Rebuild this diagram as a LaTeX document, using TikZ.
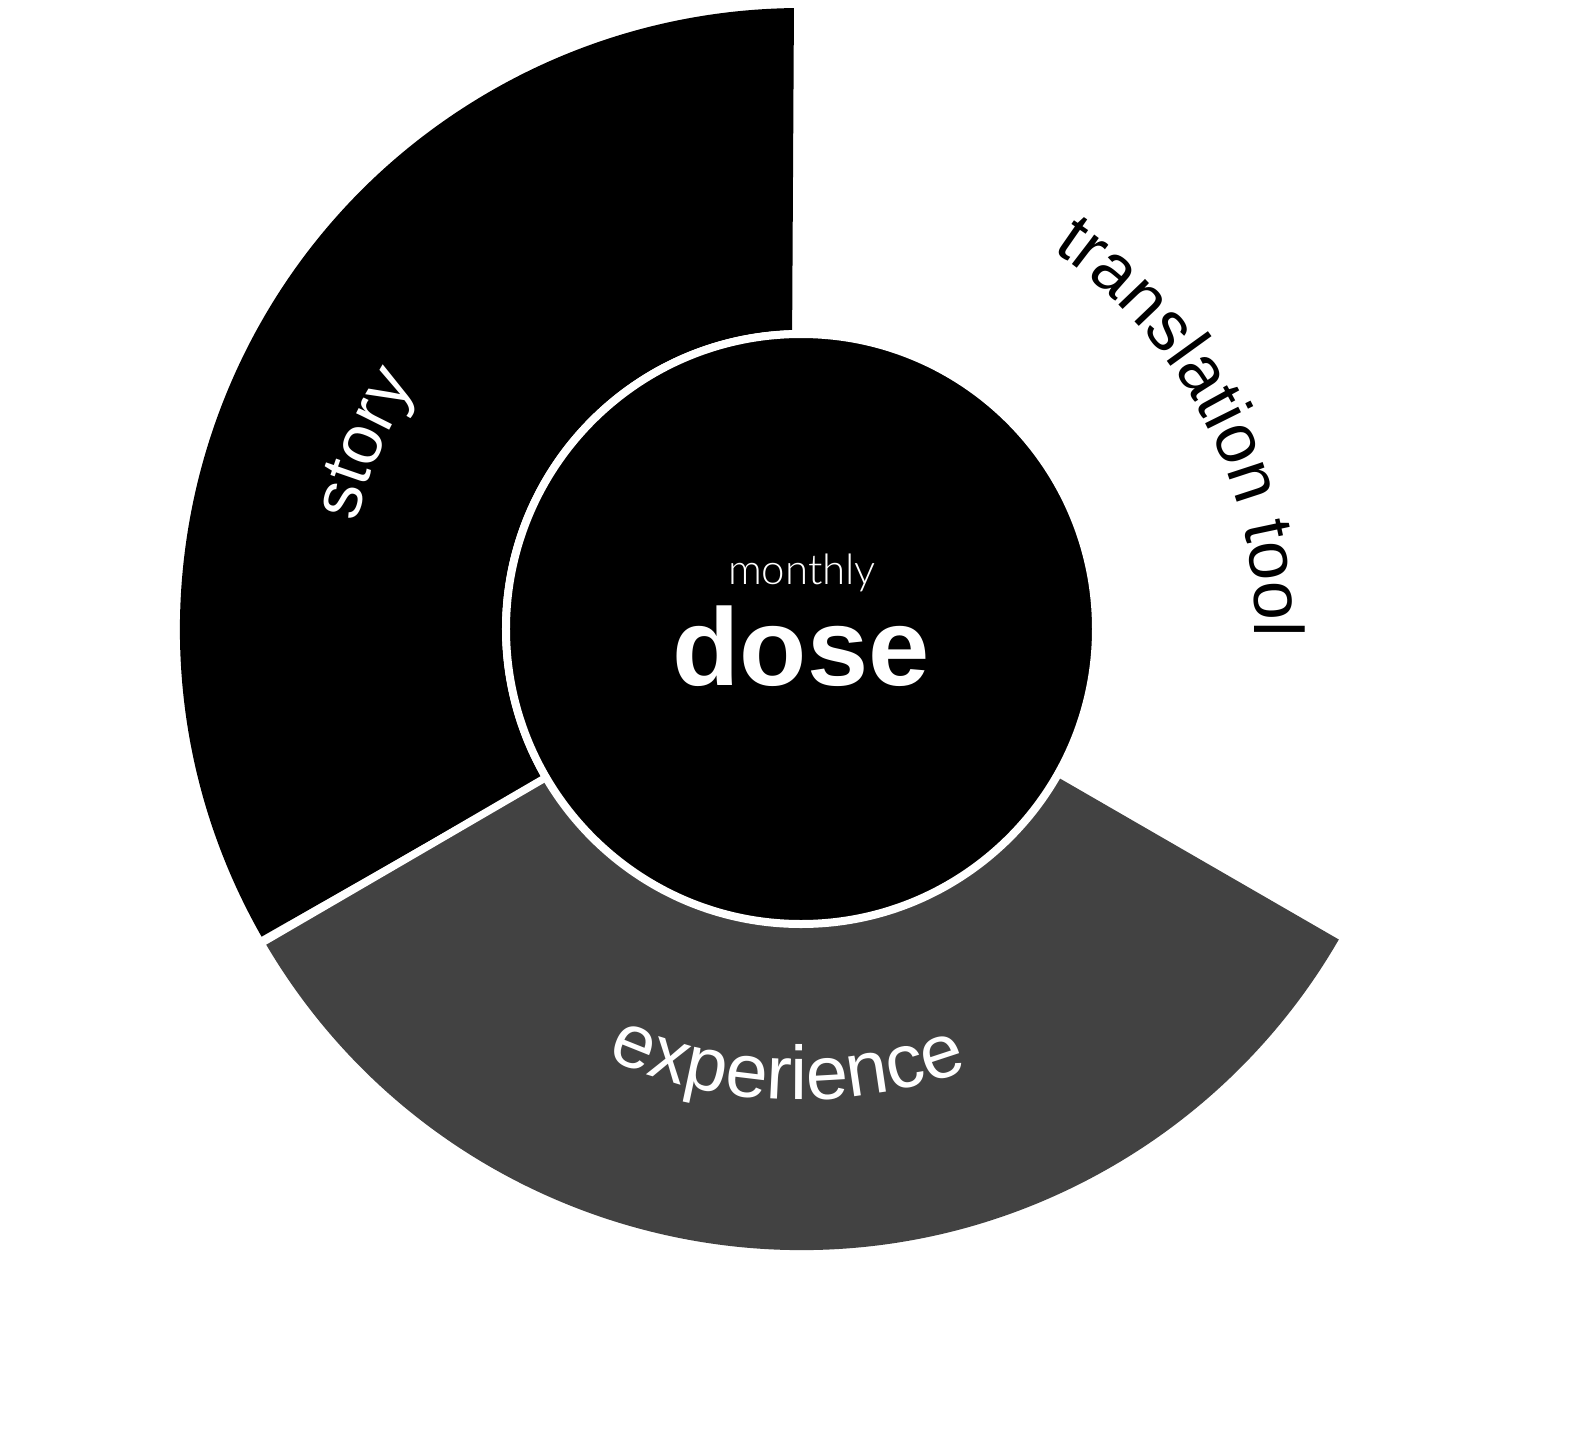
\documentclass[tikz,border=0pt]{standalone}
\usepackage{fontspec}
\setmainfont{Liberation Sans}
\usetikzlibrary{decorations.text}
\IfFontExistsTF{Lato Light}{\newfontfamily\lightfont{Lato Light}}{\newfontfamily\lightfont{Liberation Sans}}
\definecolor{expgray}{HTML}{424242}
\begin{document}
\begin{tikzpicture}[x=1pt,y=1pt,
  arclabel/.style={decorate, decoration={text along path, text align=center, text color=#1}},
  sector/.style={fill=#1, draw=none},
  centertext/.style={anchor=base, text=white, inner sep=0pt}
]
\useasboundingbox (-801,-812) rectangle (786,629);
\fill[white] (-801,-812) rectangle (786,629);
% story sector
\fill[sector=black] (209.7:299pt) -- (209.7:621pt) arc[start angle=209.7, end angle=90.65, radius=621pt]
  -- (91.7:299pt) arc[start angle=91.7, end angle=209.7, radius=299pt] -- cycle;
% experience sector
\fill[sector=expgray] (210:290pt) -- (210:621pt) arc[start angle=210, end angle=330, radius=621pt]
  -- (330:290pt) arc[start angle=330, end angle=210, radius=290pt] -- cycle;
% separator
\draw[white, line width=7.5pt] (210.2:285pt) -- (210.2:640pt);
% core
\node[circle, fill=black, draw=white, line width=8pt, minimum size=590pt, inner sep=0pt] (core) at (0,0) {};
\node[centertext, font=\lightfont\fontsize{42}{42}\selectfont] (monthly) at (1,45) {monthly};
\node[centertext, font=\bfseries\fontsize{110}{110}\selectfont] (dose) at (0,-56) {dose};
% arc labels
\path[arclabel=white, decoration={text={|\fontsize{70}{70}\selectfont|story}}]
  (197:457pt) arc[start angle=197, end angle=117, radius=457pt];
\path[arclabel=black, decoration={text={|\fontsize{70}{70}\selectfont|translation tool}}]
  (77.7:454pt) arc[start angle=77.7, end angle=-22.3, radius=454pt];
\path[arclabel=white, decoration={text={|\fontsize{76}{76}\selectfont|experience}}]
  (223.2:471pt) arc[start angle=223.2, end angle=313.2, radius=471pt];
\end{tikzpicture}
\end{document}
